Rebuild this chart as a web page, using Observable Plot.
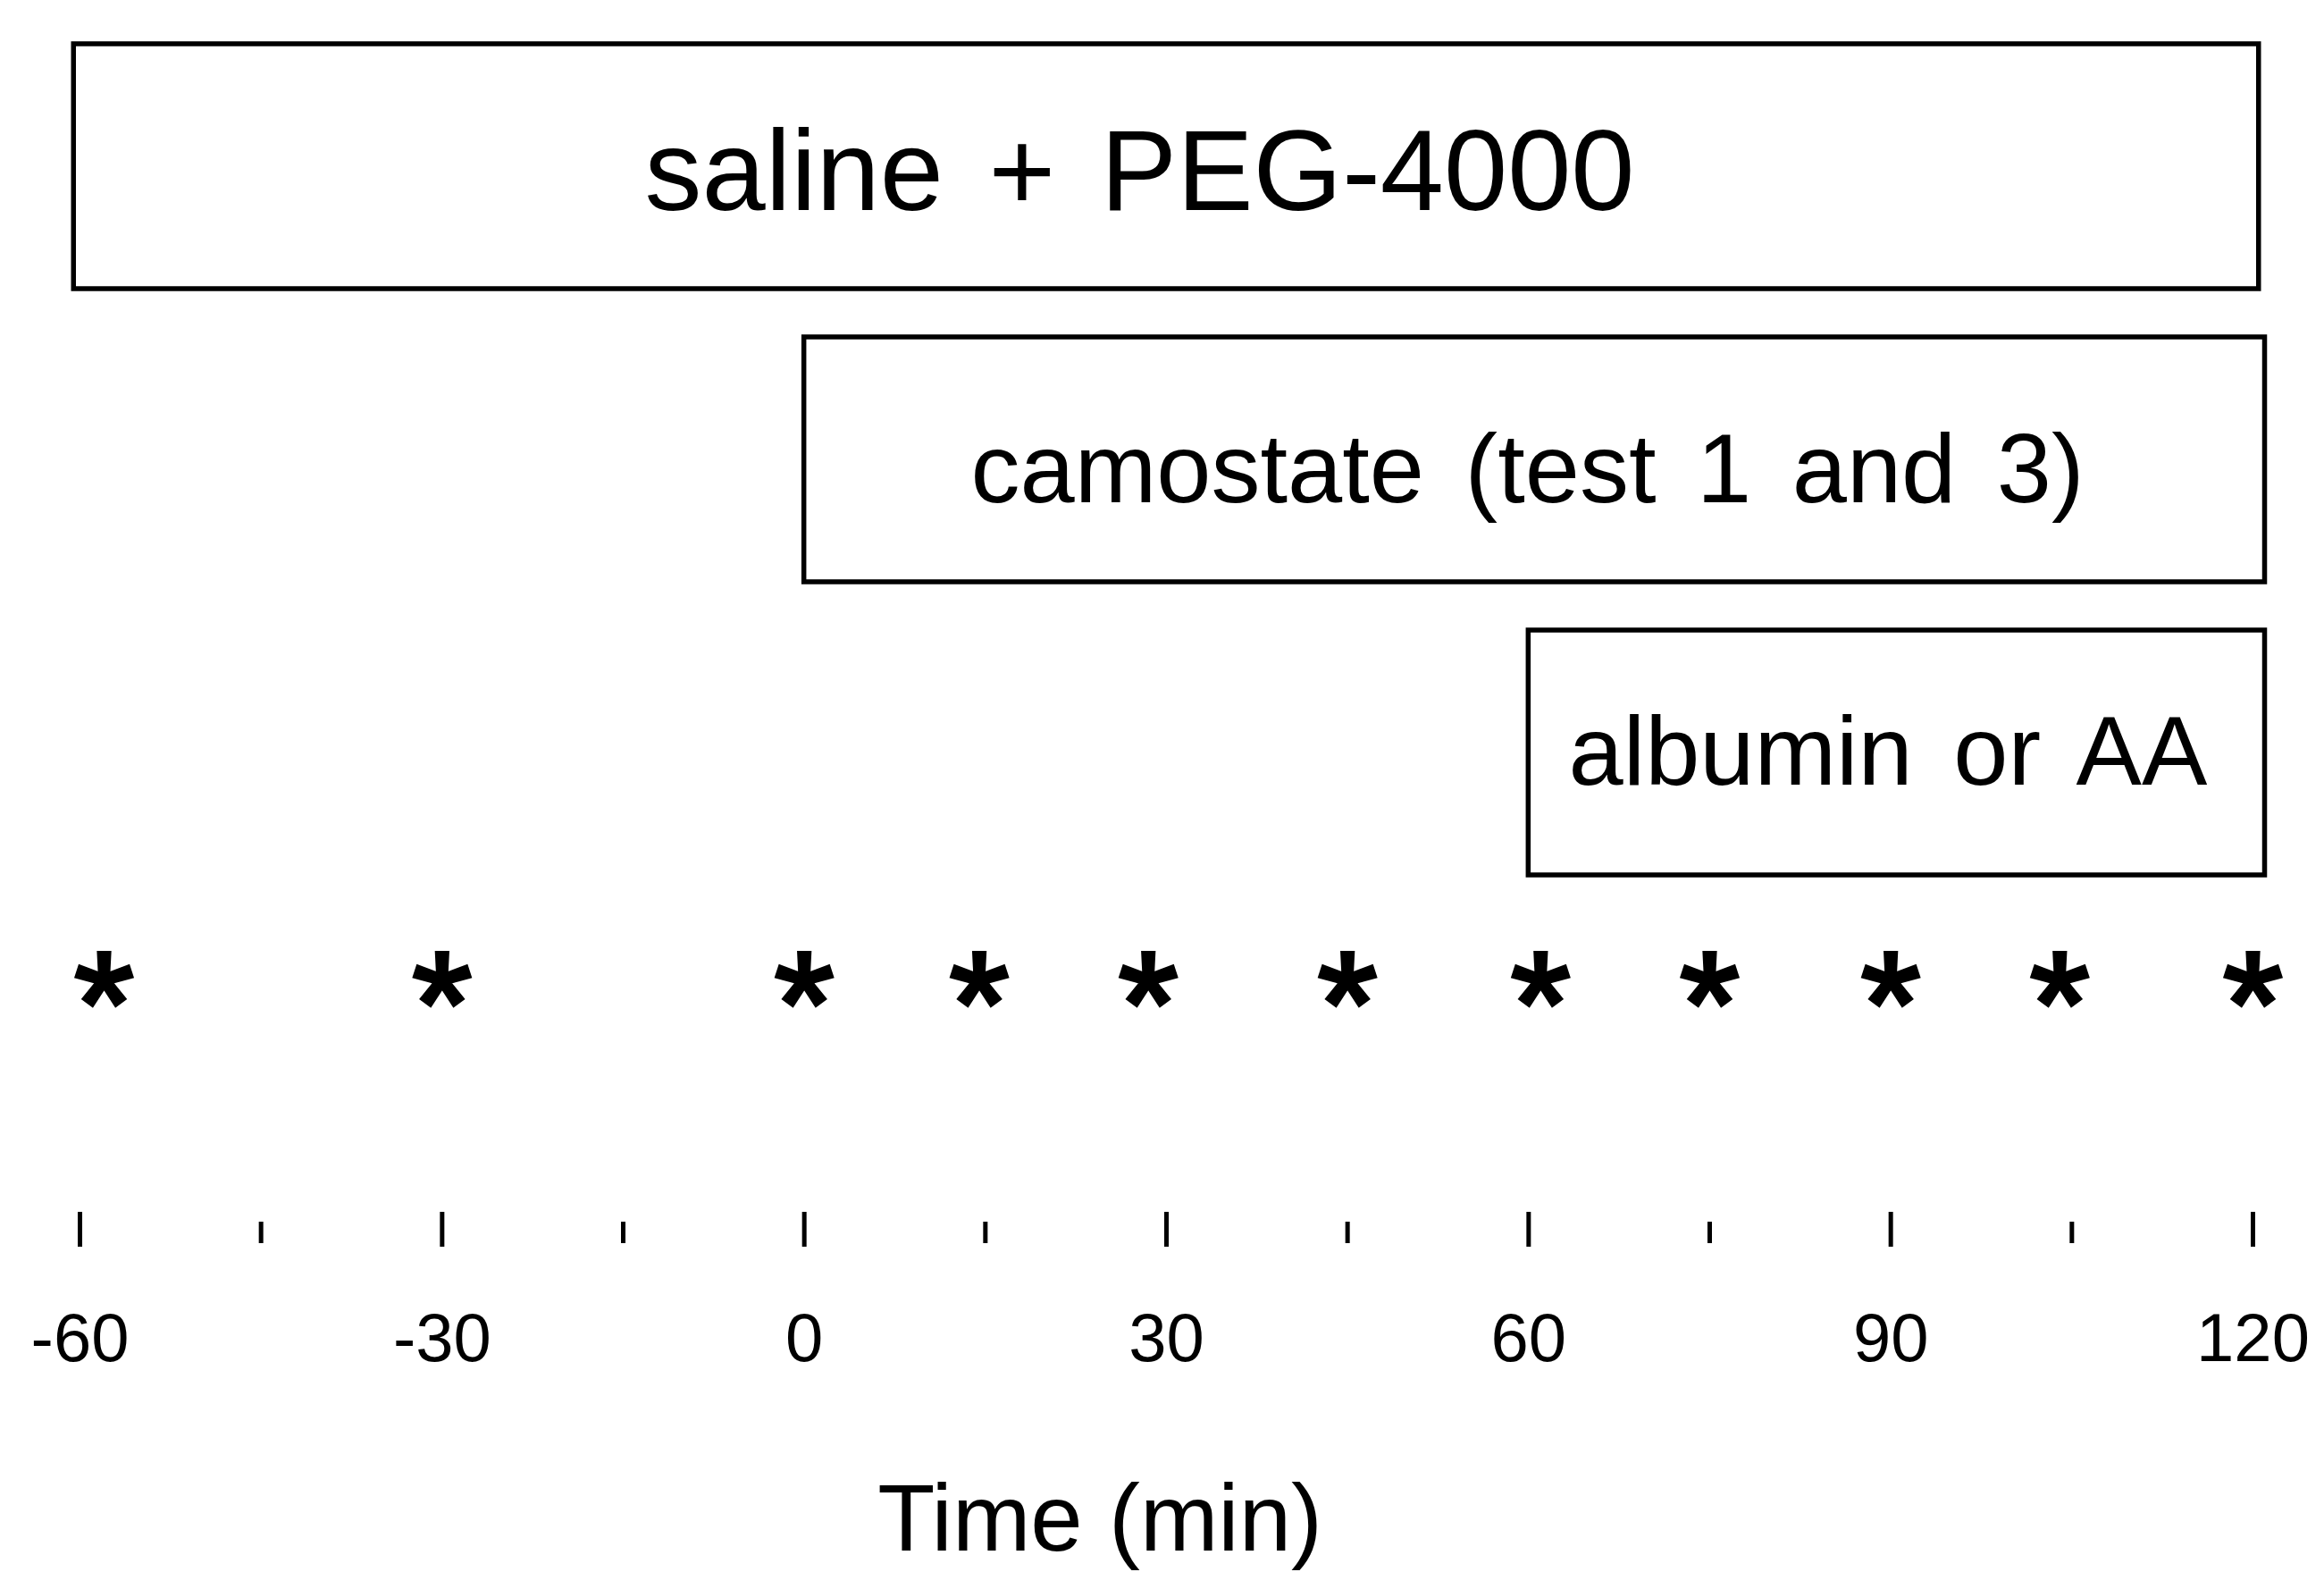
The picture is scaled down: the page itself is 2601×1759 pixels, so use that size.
<!DOCTYPE html>
<html>
<head>
<meta charset="utf-8">
<script src="https://cdn.jsdelivr.net/npm/d3@7"></script>
<script src="https://cdn.jsdelivr.net/npm/@observablehq/plot@0.6"></script>
<style>
  html, body { margin: 0; padding: 0; background: #fff; }
  #chart svg { display: block; }
  .boxlabel text { word-spacing: 15px; }
</style>
</head>
<body>
<div id="chart"></div>
<script>
// ---------- data ----------
const treatments     = ["saline + PEG-4000", "camostate (test 1 and 3)", "albumin or AA"];
const treatmentStart = [-60.5, 0, 60];     // min
const treatmentEnd   = [120.5, 121, 121];  // min
const sampleTimes    = [-58, -30, 0, 14.5, 28.5, 45, 61, 75, 90, 104, 120]; // sampling points (*), as drawn
const majorTicks     = [-60, -30, 0, 30, 60, 90, 120];
const minorTicks     = [-45, -15, 15, 45, 75, 105];
const axisTitle      = "Time (min)";
const sampleRow      = "samples";

// ---------- layout / style ----------
const W = 2601, H = 1759;
const FONT = "'Liberation Sans', Arial, Helvetica, sans-serif";
const labelFontSize = [128, 110, 110];
const labelDy = [8, 12, 0];
const labelDx = [-30, -8, -10];
const titleAtMin = 24.5;

// bold 5-armed asterisk symbol
const asterisk5 = {
  draw(context, size) {
    const r = Math.sqrt(size / Math.PI);
    const w = r * 0.2;
    for (let k = 0; k < 5; k++) {
      const a = -Math.PI / 2 + k * 2 * Math.PI / 5;
      const c = Math.cos(a), s = Math.sin(a);
      const px = -s, py = c;
      const we = w * 1.25; // arms flare slightly at their ends
      context.moveTo(px * w, py * w);
      context.lineTo(c * r + px * we, s * r + py * we);
      context.lineTo(c * r - px * we, s * r - py * we);
      context.lineTo(-px * w, -py * w);
      context.closePath();
    }
    const pr = w * 2.2;
    context.moveTo(pr * Math.cos(-Math.PI / 2), pr * Math.sin(-Math.PI / 2));
    for (let k = 1; k < 5; k++) {
      const a = -Math.PI / 2 - k * 2 * Math.PI / 5;
      context.lineTo(pr * Math.cos(a), pr * Math.sin(a));
    }
    context.closePath();
  }
};

const rows = treatments.map((label, i) => ({label, start: treatmentStart[i], end: treatmentEnd[i], i}));

const chart = Plot.plot({
  width: W,
  height: H,
  marginTop: 0,
  marginLeft: 0,
  marginRight: 0,
  marginBottom: 403,
  style: {fontFamily: FONT, background: "white", color: "black"},
  x: {domain: [-60, 120], range: [89, 2521], axis: null},
  y: {type: "band", domain: [...treatments, sampleRow], range: [49, 1307], paddingInner: 0.165, paddingOuter: 0, align: 0, axis: null},
  marks: [
    Plot.barX(rows, {x1: "start", x2: "end", y: "label", fill: "white", stroke: "black", strokeWidth: 5.5}),
    ...rows.map((r, i) => Plot.text([r], {
      x: d => (d.start + d.end) / 2,
      y: "label",
      text: "label",
      fontSize: labelFontSize[i],
      dy: labelDy[i],
      dx: labelDx[i],
      fill: "black",
      className: "boxlabel"
    })),
    Plot.dot(sampleTimes, {x: d => d, y: () => sampleRow, symbol: asterisk5, r: 32.6, fill: "black", stroke: "none", dy: -74}),
    Plot.axisX(majorTicks, {
      anchor: "bottom", tickSize: 39, tickPadding: 74, strokeWidth: 5,
      fontSize: 76, tickFormat: d => String(d), label: null
    }),
    Plot.axisX(minorTicks, {
      anchor: "bottom", tickSize: 24, dy: 11, strokeWidth: 5,
      tickFormat: () => "", label: null
    }),
    Plot.text([axisTitle], {
      x: () => titleAtMin, frameAnchor: "bottom", text: d => d,
      lineAnchor: "bottom", fontSize: 105, dy: 378, fill: "black"
    })
  ]
});

document.getElementById("chart").appendChild(chart);
</script>
</body>
</html>
